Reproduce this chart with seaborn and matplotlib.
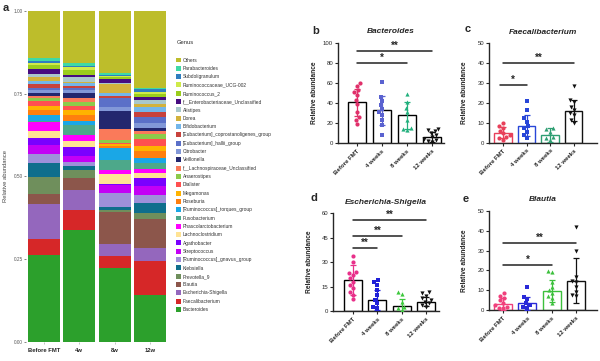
import numpy as np
import pandas as pd
import matplotlib
matplotlib.use("Agg")
import matplotlib.pyplot as plt
from matplotlib.patches import Patch
import seaborn as sns

# ── data: stacked genus composition (legend order = top of stack first) ──
samples = ["Before FMT", "4w", "8w", "12w"]
genus = ["Others", "Parabacteroides", "Subdoligranulum", "Ruminococcaceae_UCG-002",
         "Ruminococcus_2", "f__Enterobacteriaceae_Unclassified", "Alistipes", "Dorea",
         "Bifidobacterium", "[Eubacterium]_coprostanoligenes_group",
         "[Eubacterium]_hallii_group", "Citrobacter", "Veillonella",
         "f__Lachnospiraceae_Unclassified", "Anaerostipes", "Dialister", "Megamonas",
         "Roseburia", "[Ruminococcus]_torques_group", "Fusobacterium",
         "Phascolarctobacterium", "Lachnoclostridium", "Agathobacter", "Streptococcus",
         "[Ruminococcus]_gnavus_group", "Klebsiella", "Prevotella_9", "Blautia",
         "Escherichia-Shigella", "Faecalibacterium", "Bacteroides"]
before_fmt = [0.142, 0.009, 0.006, 0.007, 0.012, 0.016, 0.007, 0.013, 0.010, 0.010,
              0.008, 0.009, 0.008, 0.005, 0.012, 0.013, 0.012, 0.015, 0.020, 0.003,
              0.027, 0.020, 0.020, 0.030, 0.025, 0.043, 0.051, 0.031, 0.104, 0.049, 0.263]
week4 = [0.157, 0.009, 0.005, 0.008, 0.014, 0.006, 0.015, 0.005, 0.007, 0.007,
         0.006, 0.010, 0.014, 0.013, 0.013, 0.010, 0.017, 0.017, 0.013, 0.028,
         0.019, 0.018, 0.027, 0.020, 0.010, 0.013, 0.025, 0.035, 0.060, 0.062, 0.337]
week8 = [0.189, 0.005, 0.003, 0.003, 0.007, 0.010, 0.005, 0.025, 0.011, 0.004,
         0.028, 0.014, 0.053, 0.033, 0.008, 0.004, 0.007, 0.006, 0.035, 0.030,
         0.012, 0.032, 0.003, 0.023, 0.042, 0.010, 0.005, 0.097, 0.036, 0.037, 0.223]
week12 = [0.232, 0.003, 0.010, 0.006, 0.008, 0.012, 0.010, 0.010, 0.015, 0.015,
          0.017, 0.016, 0.008, 0.010, 0.015, 0.020, 0.017, 0.020, 0.017, 0.016,
          0.012, 0.016, 0.025, 0.025, 0.025, 0.030, 0.020, 0.087, 0.038, 0.103, 0.142]

genus_colors = ["#BDBD2B", "#3FD9A5", "#2F7DBF", "#CFEA4A", "#9ACD1C", "#460C80",
                "#A8C8CC", "#D2B23C", "#73B6EA", "#C8423C", "#5B70C8", "#8298D8",
                "#23276E", "#FA7A5A", "#8CCB4A", "#FF5050", "#FFB300", "#FF7F0E",
                "#1AA7E6", "#4DA88A", "#FF00FF", "#FFE394", "#7A00FF", "#C300F5",
                "#9E90DA", "#0F6E8C", "#6F8F5C", "#8C564B", "#9467BD", "#D62728",
                "#2CA02C"]

# ── data: single genus panels ──
groups = ["Before FMT", "4 weeks", "8 weeks", "12 weeks"]

bact_mean = [41, 33, 28, 6]
bact_sd = [13.5, 14.5, 13.5, 5]
bact_pts = [[60, 57, 53, 51, 48, 43, 39, 31, 26, 23, 19],
            [61, 46, 42, 38, 34, 31, 28, 23, 18, 8],
            [49, 41, 35, 31, 23, 15, 14, 13],
            [14, 13, 12, 10, 8, 6, 4, 3, 2, 1]]
bact_sig = [(0, 3, 92, "**"), (0, 2, 80, "*")]

faec_mean = [5, 8.5, 3.8, 16]
faec_sd = [2.7, 5.3, 3.4, 5.3]
faec_pts = [[9.7, 8.3, 7.2, 6, 4.7, 3.8, 3, 2.2, 1.3],
            [21, 16.3, 12.2, 10.5, 8.3, 7.2, 5.5, 3.8, 2.2],
            [7.2, 6.7, 5.5, 3, 2.2, 1.3],
            [28.3, 21.7, 20.5, 18, 16.3, 14.7, 13.8, 11.3, 9.7]]
faec_sig = [(0, 3, 40, "**"), (-0.15, 1, 29, "*")]

esch_mean = [19, 6.8, 3.3, 5.8]
esch_sd = [9.3, 6.2, 4.1, 3.0]
esch_pts = [[33.9, 30, 24.2, 23.2, 22.2, 20.1, 18, 16, 14, 11.9, 10, 7.4],
            [19.1, 17.7, 16, 13, 10, 6.8, 4.7, 2.7, 1.6],
            [11.5, 10.3, 5.8, 2.7, 1.6, 0.6],
            [11.5, 10.9, 9.5, 7.8, 6.8, 5.8, 4.7, 3.7, 2.7]]
esch_sig = [(0, 3, 55.7, "**"), (0, 2, 46, "**"), (0, 1, 38.8, "**")]

blaut_mean = [2.9, 3.4, 9.6, 14.8]
blaut_sd = [3.0, 3.3, 5.6, 11.5]
blaut_pts = [[8.4, 7.2, 6.2, 5, 3.4, 2.5, 1.7, 1.2, 0.8],
             [11.8, 6.7, 5.5, 3.4, 2.5, 1.7, 0.8],
             [19.7, 19, 14.3, 11.8, 10.1, 8.4, 7.2, 5.9, 3.4],
             [42.1, 29.8, 16.8, 14.6, 14.3, 11.8, 9.3, 7.6, 7.2]]
blaut_sig = [(0, 3, 33.7, "**"), (0, 2, 22.7, "*")]

markers = ["o", "s", "^", "v"]

# ── style ──
sns.set_style("ticks")
plt.rcParams["font.family"] = ["Liberation Sans", "DejaVu Sans"]

W, H = 600, 361
fig = plt.figure(figsize=(W / 100, H / 100), dpi=100)


def px_axes(left, right, top, bottom):
    return fig.add_axes([left / W, 1 - bottom / H, (right - left) / W, (bottom - top) / H])


# ── panel a: stacked bars ──
ax_a = px_axes(26.4, 167.6, 10.7, 342)
df = pd.DataFrame({"Before FMT": before_fmt, "4w": week4, "8w": week8, "12w": week12},
                  index=genus)
for i, col in enumerate(genus_colors):
    height = df.iloc[i:].sum()
    sns.barplot(x=samples, y=height.values, order=samples, color=col, saturation=1,
                width=0.9, linewidth=0, edgecolor="none", ax=ax_a)
ax_a.set_xlim(-0.5, 3.5)
ax_a.set_ylim(0, 1)
ax_a.set_yticks([0, 0.25, 0.5, 0.75, 1.0])
ax_a.set_yticklabels(["0.00", "0.25", "0.50", "0.75", "1.00"])
ax_a.tick_params(axis="y", labelsize=3.4, length=1.5, width=0.5, colors="#555555", pad=1)
ax_a.tick_params(axis="x", labelsize=4.2, length=1.5, width=0.5, color="#aaaaaa", pad=3)
for lab in ax_a.get_xticklabels():
    lab.set_fontweight("bold")
for s in ax_a.spines.values():
    s.set_visible(False)
ax_a.set_xlabel("")
ax_a.set_ylabel("Relative abundance", fontsize=4.2, color="#444444")
ax_a.yaxis.set_label_coords(-0.13, 0.5)

handles = [Patch(facecolor=c, edgecolor="none") for c in genus_colors]
leg = fig.legend(handles, genus, loc="upper left", bbox_to_anchor=(176 / W, 1 - 57.5 / H),
                 frameon=False, fontsize=3.5, handlelength=0.95, handleheight=1.2,
                 handletextpad=0.5, labelspacing=0.655, borderpad=0, borderaxespad=0)
for t in leg.get_texts():
    t.set_color("#333333")
fig.text(177 / W, 1 - 43 / H, "Genus", fontsize=4.2, va="center", color="#333333")


# ── panels b-e ──
def bar_panel(ax, mean, sd, pts, cols, colored_edges, ylim, yticks, title, sigs, xlim, width):
    sns.barplot(x=groups, y=mean, order=groups, color="white", saturation=1, width=width,
                edgecolor="black", linewidth=1.0, errorbar=None, ax=ax)
    if colored_edges:
        for p, c in zip(ax.patches, cols):
            p.set_edgecolor(c)
    for i in range(4):
        ax.errorbar(i, mean[i], yerr=sd[i], fmt="none", ecolor=cols[i], elinewidth=0.9,
                    capsize=2.2, capthick=0.9, zorder=3)
        sns.swarmplot(x=[groups[i]] * len(pts[i]), y=pts[i], order=groups, color=cols[i],
                      marker=markers[i], size=3.0, linewidth=0, ax=ax, zorder=4)
    for x0, x1, y, stars in sigs:
        ax.plot([x0, x1], [y, y], color="#222222", lw=1.1, clip_on=False, zorder=5)
        ax.annotate(stars, xy=((x0 + x1) / 2, y), xytext=(0, 0.3), textcoords="offset points",
                    ha="center", va="bottom", fontsize=7, fontweight="bold", annotation_clip=False)
    ax.set_xlim(*xlim)
    ax.set_ylim(*ylim)
    ax.set_yticks(yticks)
    ax.set_xticks(range(4))
    ax.set_xticklabels(groups, rotation=45, ha="right", rotation_mode="anchor",
                       fontsize=4.3, fontweight="bold")
    ax.tick_params(axis="y", labelsize=4.3, length=2.5, width=0.8, pad=1)
    ax.tick_params(axis="x", length=2.5, width=0.8, pad=1.5)
    sns.despine(ax=ax)
    for s in ["left", "bottom"]:
        ax.spines[s].set_linewidth(1.0)
    ax.set_xlabel("")
    ax.set_ylabel("Relative abundance", fontsize=4.8, fontweight="bold")
    ax.yaxis.set_label_coords(-0.19, 0.5)
    ax.set_title(title, fontsize=6, fontstyle="italic", fontweight="bold", pad=7)


ax_b = px_axes(338, 444, 43, 143)
bar_panel(ax_b, bact_mean, bact_sd, bact_pts, ["#E0306A", "#5A62D0", "#22B07D", "#111111"],
          False, (0, 100), [0, 20, 40, 60, 80, 100], "Bacteroides", bact_sig, (-0.76, 3.48), 0.72)

ax_c = px_axes(489, 597, 43.3, 142.7)
bar_panel(ax_c, faec_mean, faec_sd, faec_pts, ["#E8405A", "#2846D8", "#2E9E72", "#111111"],
          True, (0, 50), [0, 10, 20, 30, 40, 50], "Faecalibacterium", faec_sig, (-0.6, 4.0), 0.76)

ax_d = px_axes(333, 439, 213.3, 311)
bar_panel(ax_d, esch_mean, esch_sd, esch_pts, ["#E8308A", "#2020D8", "#3CC83C", "#111111"],
          False, (0, 60), [0, 15, 30, 45, 60], "Escherichia-Shigella", esch_sig, (-0.82, 3.53), 0.74)

ax_e = px_axes(489, 597, 211, 310)
bar_panel(ax_e, blaut_mean, blaut_sd, blaut_pts, ["#F0407C", "#2A2AD8", "#3CC03C", "#111111"],
          True, (0, 50), [0, 10, 20, 30, 40, 50], "Blautia", blaut_sig, (-0.58, 3.86), 0.74)

# panel letters
for letter, x, y in [("a", 3, 8), ("b", 312, 31), ("c", 465, 29), ("d", 310, 198), ("e", 463, 199)]:
    fig.text(x / W, 1 - y / H, letter, fontsize=8, fontweight="bold", va="center")

fig.savefig("out.png", dpi=100)
